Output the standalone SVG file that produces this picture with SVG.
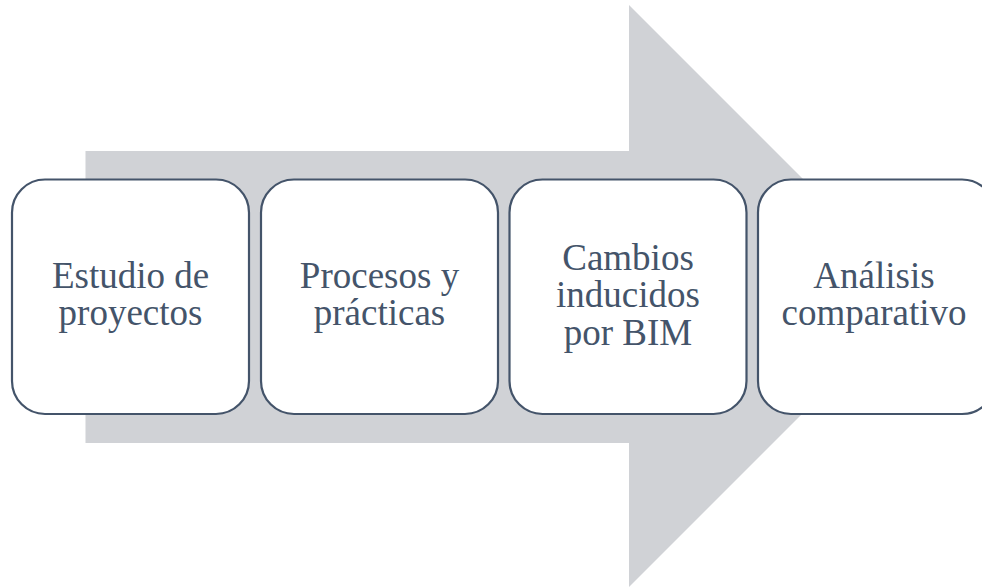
<svg xmlns="http://www.w3.org/2000/svg" width="982" height="588" viewBox="0 0 982 588">
<style>
.box{fill:#ffffff;stroke:#44546a;stroke-width:2.2}
.lbl{font-family:'Liberation Serif','Times New Roman','DejaVu Serif',serif;font-size:37px;fill:#44546a;text-anchor:middle}
</style>
<rect width="982" height="588" fill="#ffffff"/>
<g id="arrow">
<polygon points="85.5,151 629,151 629,5 920,296 629,587 629,443 85.5,443" fill="#d0d2d6"/>
</g>
<g id="node1">
<rect class="box" x="12" y="179.5" width="237" height="234.5" rx="33" ry="33"/>
<text class="lbl" x="130.5" y="288">Estudio de</text>
<text class="lbl" x="130.5" y="325">proyectos</text>
</g>
<g id="node2">
<rect class="box" x="261" y="179.5" width="237" height="234.5" rx="33" ry="33"/>
<text class="lbl" x="379.5" y="288">Procesos y</text>
<text class="lbl" x="379.5" y="325">prácticas</text>
</g>
<g id="node3">
<rect class="box" x="509.5" y="179.5" width="237" height="234.5" rx="33" ry="33"/>
<text class="lbl" x="628" y="269.5">Cambios</text>
<text class="lbl" x="628" y="307">inducidos</text>
<text class="lbl" x="628" y="344.5">por BIM</text>
</g>
<g id="node4">
<rect class="box" x="758" y="179.5" width="237" height="234.5" rx="33" ry="33"/>
<text class="lbl" x="874" y="288">Análisis</text>
<text class="lbl" x="874" y="325">comparativo</text>
</g>
<g id="connectors"></g>
</svg>
